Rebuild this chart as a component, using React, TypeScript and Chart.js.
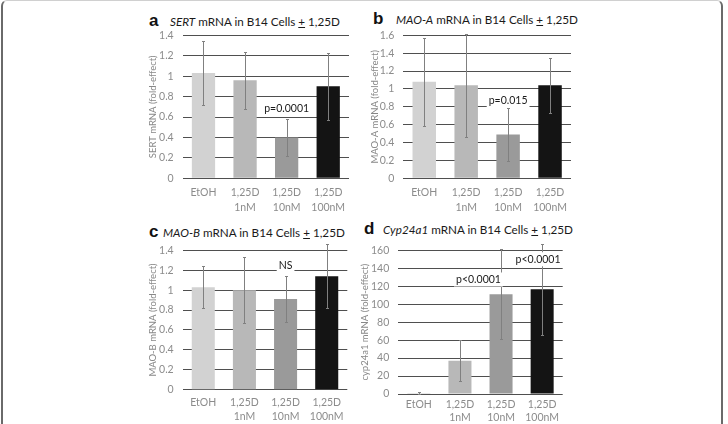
import React, { useEffect, useLayoutEffect, useRef, useState } from "react";
import { Chart, registerables } from "chart.js";

Chart.register(...registerables);

// ---------- data ----------
const categories: (string | string[])[] = [
  "EtOH",
  ["1,25D", "1nM"],
  ["1,25D", "10nM"],
  ["1,25D", "100nM"],
];
const barColors = ["#d2d2d2", "#b8b8b8", "#9a9a9a", "#141414"];

const sertMean = [1.03, 0.96, 0.4, 0.9];
const sertErr = [0.31, 0.28, 0.18, 0.33];
const sertTicks = [0, 0.2, 0.4, 0.6, 0.8, 1, 1.2, 1.4];

const maoaMean = [1.08, 1.04, 0.49, 1.04];
const maoaErr = [0.49, 0.58, 0.3, 0.31];
const maoaTicks = [0, 0.2, 0.4, 0.6, 0.8, 1, 1.2, 1.4, 1.6];

const maobMean = [1.03, 1.0, 0.91, 1.14];
const maobErr = [0.21, 0.33, 0.23, 0.32];
const maobTicks = [0, 0.2, 0.4, 0.6, 0.8, 1, 1.2, 1.4];

const cypMean = [1, 37, 111, 116.5];
const cypErr = [1, 23, 50, 51];
const cypTicks = [0, 20, 40, 60, 80, 100, 120, 140, 160];

type Note = { text: string; x: number; y: number };
const sertNotes: Note[] = [{ text: "p=0.0001", x: 2, y: 0.68 }];
const maoaNotes: Note[] = [{ text: "p=0.015", x: 2, y: 0.866 }];
const maobNotes: Note[] = [{ text: "NS", x: 2, y: 1.25 }];
const cypNotes: Note[] = [
  { text: "p<0.0001", x: 1.45, y: 127.5 },
  { text: "p<0.0001", x: 2.9, y: 150 },
];

const FONT = "Lato, 'Open Sans', sans-serif";

const errorPlugin = {
  id: "errAndNotes",
  afterDatasetsDraw(chart: any, _args: any, opts: any) {
    const ctx = chart.ctx as CanvasRenderingContext2D;
    const meta = chart.getDatasetMeta(0);
    const vals = chart.data.datasets[0].data as number[];
    const errs = opts.errors as number[];
    const ys = chart.scales.y;
    const xs = chart.scales.x;
    ctx.save();
    ctx.strokeStyle = "#808080";
    ctx.lineWidth = 1;
    meta.data.forEach((bar: any, i: number) => {
      const x = Math.round(bar.x) + 0.5;
      const t = Math.round(ys.getPixelForValue(vals[i] + errs[i])) + 0.5;
      const b = Math.round(ys.getPixelForValue(vals[i] - errs[i])) + 0.5;
      ctx.beginPath();
      ctx.moveTo(x, t);
      ctx.lineTo(x, b);
      ctx.moveTo(x - 1.5, t);
      ctx.lineTo(x + 1.5, t);
      ctx.moveTo(x - 1.5, b);
      ctx.lineTo(x + 1.5, b);
      ctx.stroke();
    });
    ctx.font = `10.5px ${FONT}`;
    ctx.textAlign = "center";
    ctx.textBaseline = "middle";
    (opts.notes as Note[]).forEach((n) => {
      const px = xs.getPixelForValue(n.x);
      const py = ys.getPixelForValue(n.y);
      const w = ctx.measureText(n.text).width;
      ctx.fillStyle = "#ffffff";
      ctx.fillRect(px - w / 2 - 2, py - 7, w + 4, 14);
      ctx.fillStyle = "#1a1a1a";
      ctx.fillText(n.text, px, py);
    });
    ctx.restore();
  },
};

type PanelProps = {
  left: number;
  top: number;
  width: number;
  height: number;
  padTop: number;
  padRight: number;
  yWidth: number;
  xHeight: number;
  titlePad: number;
  xTickPad: number;
  xLineHeight: number;
  means: number[];
  errs: number[];
  ticks: number[];
  notes: Note[];
  yTitle: string;
};

function Panel(p: PanelProps) {
  const ref = useRef<HTMLCanvasElement | null>(null);
  useEffect(() => {
    if (!ref.current) return;
    const tickVals = p.ticks;
    const chart = new Chart(ref.current, {
      type: "bar",
      data: {
        labels: categories as any,
        datasets: [
          {
            data: p.means,
            backgroundColor: barColors,
            borderWidth: 0,
            barPercentage: 0.56,
            categoryPercentage: 1,
          },
        ],
      },
      plugins: [errorPlugin],
      options: {
        animation: false,
        responsive: false,
        maintainAspectRatio: false,
        layout: { padding: { top: p.padTop, right: p.padRight, left: 0, bottom: 0 } },
        plugins: {
          legend: { display: false },
          tooltip: { enabled: false },
          errAndNotes: { errors: p.errs, notes: p.notes },
        } as any,
        scales: {
          x: {
            grid: { display: false, drawTicks: false },
            border: { display: false },
            ticks: {
              color: "#8c8c8c",
              font: { family: FONT, size: 10.5, lineHeight: p.xLineHeight },
              padding: p.xTickPad,
              maxRotation: 0,
              autoSkip: false,
            },
            afterFit: (s: any) => {
              s.height = p.xHeight;
            },
          },
          y: {
            min: tickVals[0],
            max: tickVals[tickVals.length - 1],
            afterBuildTicks: (s: any) => {
              s.ticks = tickVals.map((v) => ({ value: v }));
            },
            grid: { color: "#4f4f4f", lineWidth: 1, drawTicks: false },
            border: { display: false },
            ticks: {
              color: "#8c8c8c",
              font: { family: FONT, size: 10.5 },
              padding: 9,
              callback: (v: any) => String(+Number(v).toFixed(1)),
            },
            title: {
              display: true,
              text: p.yTitle,
              color: "#888888",
              font: { family: FONT, size: 9.5 },
              padding: { top: p.titlePad, bottom: 0 },
            },
            afterFit: (s: any) => {
              s.width = p.yWidth;
            },
          },
        },
      },
    });
    return () => chart.destroy();
  }, []);
  return (
    <canvas
      ref={ref}
      width={p.width}
      height={p.height}
      style={{ position: "absolute", left: p.left, top: p.top, width: p.width, height: p.height }}
    />
  );
}

function Title(props: { letter: string; lx: number; tx: number; y: number; gene: string; size: number }) {
  return (
    <>
      <div
        style={{
          position: "absolute",
          left: props.lx,
          top: props.y - 10,
          height: 20,
          lineHeight: "20px",
          fontFamily: "'Liberation Sans', Arial, sans-serif",
          fontWeight: "bold",
          fontSize: 17,
          color: "#111",
        }}
      >
        {props.letter}
      </div>
      <div
        style={{
          position: "absolute",
          left: props.tx,
          top: props.y - 9,
          height: 18,
          lineHeight: "18px",
          fontFamily: FONT,
          fontSize: props.size,
          color: "#1a1a1a",
          whiteSpace: "nowrap",
        }}
      >
        <i>{props.gene}</i> mRNA in B14 Cells <u>+</u> 1,25D
      </div>
    </>
  );
}

export default function App() {
  // title font size fitted so that panel a's title spans its reference width
  const probe = useRef<HTMLDivElement | null>(null);
  const [size, setSize] = useState(13);
  useLayoutEffect(() => {
    const el = probe.current;
    if (!el) return;
    const w = el.getBoundingClientRect().width;
    if (w > 0) setSize((13 * 170) / w);
  }, []);
  return (
    <div
      style={{
        position: "fixed",
        left: 0,
        top: 0,
        width: 728,
        height: 424,
        background: "#fff",
        overflow: "hidden",
      }}
    >
      <div
        ref={probe}
        style={{
          position: "absolute",
          left: 0,
          top: -100,
          fontFamily: FONT,
          fontSize: 13,
          whiteSpace: "nowrap",
          visibility: "hidden",
        }}
      >
        <i>SERT</i> mRNA in B14 Cells <u>+</u> 1,25D
      </div>
      <div
        style={{
          position: "absolute",
          left: 1,
          top: 0,
          width: 718,
          height: 440,
          borderLeft: "2px solid #6a6a6a",
          borderRight: "2px solid #6a6a6a",
          borderTop: "1px solid #d0d0d0",
          borderRadius: 6,
        }}
      />
      <Title letter="a" lx={149} tx={170} y={21} gene="SERT" size={size} />
      <Title letter="b" lx={373} tx={396} y={19} gene="MAO-A" size={size} />
      <Title letter="c" lx={149} tx={163} y={232} gene="MAO-B" size={size} />
      <Title letter="d" lx={364} tx={383} y={229} gene="Cyp24a1" size={size} />
      <Panel
        left={140}
        top={20}
        width={220}
        height={195}
        padTop={13.7}
        padRight={11}
        yWidth={42.7}
        xHeight={36.7}
        titlePad={7.6}
        xTickPad={7}
        xLineHeight={1.4}
        means={sertMean}
        errs={sertErr}
        ticks={sertTicks}
        notes={sertNotes}
        yTitle="SERT mRNA (fold-effect)"
      />
      <Panel
        left={360}
        top={20}
        width={230}
        height={195}
        padTop={12.3}
        padRight={19}
        yWidth={43.3}
        xHeight={36.7}
        titlePad={9.6}
        xTickPad={7}
        xLineHeight={1.4}
        means={maoaMean}
        errs={maoaErr}
        ticks={maoaTicks}
        notes={maoaNotes}
        yTitle="MAO-A mRNA (fold-effect)"
      />
      <Panel
        left={140}
        top={235}
        width={220}
        height={189}
        padTop={11.7}
        padRight={12.7}
        yWidth={42.7}
        xHeight={34.3}
        titlePad={7.6}
        xTickPad={6}
        xLineHeight={1.35}
        means={maobMean}
        errs={maobErr}
        ticks={maobTicks}
        notes={maobNotes}
        yTitle="MAO-B mRNA (fold-effect)"
      />
      <Panel
        left={355}
        top={235}
        width={235}
        height={189}
        padTop={10}
        padRight={27.3}
        yWidth={43.3}
        xHeight={30}
        titlePad={4.6}
        xTickPad={4}
        xLineHeight={1.25}
        means={cypMean}
        errs={cypErr}
        ticks={cypTicks}
        notes={cypNotes}
        yTitle="cyp24a1 mRNA (fold-effect)"
      />
    </div>
  );
}
